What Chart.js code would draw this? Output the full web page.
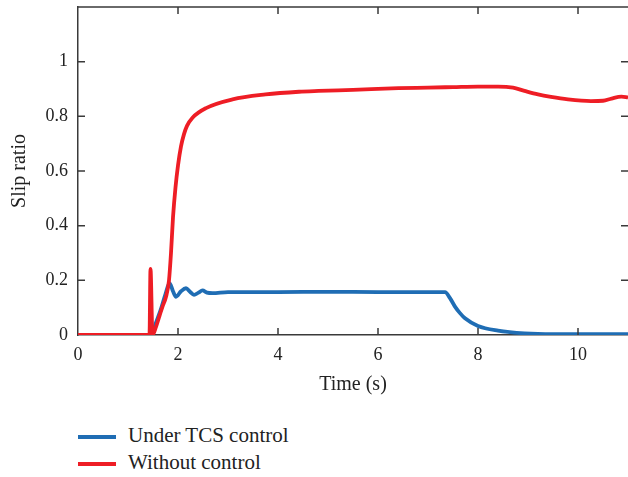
<!DOCTYPE html>
<html>
<head>
<meta charset="utf-8">
<script src="https://cdn.jsdelivr.net/npm/chart.js@4"></script>
<style>
  body { margin: 0; background: #fff; font-family: "Liberation Serif", serif; }
  #wrap { position: relative; width: 628px; height: 477px; }
  #chart { display: block; }
  #legend { position: absolute; left: 78px; top: 422px; color: #222; font-size: 21px; }
  #legend div { height: 27px; line-height: 27px; }
  #legend i { display: inline-block; width: 38px; height: 3.5px; vertical-align: middle; margin-right: 12px; }
</style>
</head>
<body>
<div id="wrap">
  <canvas id="chart" width="628" height="400"></canvas>
  <div id="legend"></div>
</div>
<script>
// data
const timeBlue = [0, 1.48, 1.55, 1.65, 1.75, 1.83, 1.9, 1.96, 2.06, 2.16, 2.24, 2.32, 2.41, 2.49, 2.58, 2.69, 3.0, 4, 5, 6, 7, 7.34, 7.44, 7.54, 7.64, 7.74, 8.0, 8.4, 8.93, 9.5, 10, 11];
const slipBlue = [0, 0, 0.04, 0.09, 0.15, 0.19, 0.16, 0.14, 0.16, 0.171, 0.158, 0.147, 0.155, 0.163, 0.155, 0.153, 0.157, 0.157, 0.158, 0.157, 0.157, 0.157, 0.135, 0.104, 0.08, 0.061, 0.033, 0.016, 0.006, 0.003, 0.003, 0.003];

const timeRed = [0, 1.43, 1.45, 1.49, 1.56, 1.63, 1.69, 1.76, 1.82, 1.86, 1.9, 1.95, 2.0, 2.06, 2.12, 2.18, 2.29, 2.56, 3.09, 3.75, 4.42, 4.81, 5.5, 6.41, 7.0, 7.5, 8.0, 8.4, 8.7, 8.93, 9.2, 9.46, 9.8, 10.26, 10.5, 10.67, 10.87, 11];
const slipRed = [0, 0, 0.242, 0, 0.03, 0.07, 0.104, 0.14, 0.2, 0.3, 0.43, 0.54, 0.62, 0.69, 0.735, 0.765, 0.795, 0.83, 0.862, 0.88, 0.89, 0.893, 0.897, 0.903, 0.905, 0.907, 0.909, 0.909, 0.905, 0.893, 0.88, 0.871, 0.862, 0.856, 0.857, 0.865, 0.872, 0.869];

const seriesLabels = ['Under TCS control', 'Without control'];
const seriesColors = ['#1f6db4', '#ee1d25'];
const xTicks = [0, 2, 4, 6, 8, 10];
const yTicks = [0, 0.2, 0.4, 0.6, 0.8, 1];

const axisColor = '#3a3a3a';
const font = { family: '"Liberation Serif", serif', size: 18 };
const titleFont = { family: '"Liberation Serif", serif', size: 20 };

function toPoints(xs, ys) {
  return xs.map((x, i) => ({ x, y: ys[i] }));
}

// top spine + inward tick marks on all four sides
const innerTicks = {
  id: 'innerTicks',
  afterDraw(chart) {
    const { ctx, chartArea: a, scales: { x, y } } = chart;
    ctx.save();
    ctx.strokeStyle = axisColor;
    ctx.lineWidth = 1.5;
    ctx.beginPath();
    ctx.moveTo(a.left, a.top);
    ctx.lineTo(a.right, a.top);
    xTicks.forEach((v) => {
      if (v === 0) return;
      const px = x.getPixelForValue(v);
      ctx.moveTo(px, a.bottom); ctx.lineTo(px, a.bottom - 7);
      ctx.moveTo(px, a.top); ctx.lineTo(px, a.top + 7);
    });
    yTicks.forEach((v) => {
      if (v === 0) return;
      const py = y.getPixelForValue(v);
      ctx.moveTo(a.left, py); ctx.lineTo(a.left + 7, py);
      ctx.moveTo(a.right, py); ctx.lineTo(a.right - 7, py);
    });
    ctx.stroke();
    ctx.restore();
  },
};

new Chart(document.getElementById('chart'), {
  type: 'line',
  data: {
    datasets: [
      { label: seriesLabels[0], data: toPoints(timeBlue, slipBlue), borderColor: seriesColors[0], order: 1 },
      { label: seriesLabels[1], data: toPoints(timeRed, slipRed), borderColor: seriesColors[1], order: 0 },
    ],
  },
  options: {
    responsive: false,
    animation: false,
    layout: { padding: { top: 7, right: 0 } },
    elements: {
      point: { radius: 0 },
      line: { borderWidth: 3.8, cubicInterpolationMode: 'monotone', fill: false },
    },
    plugins: { legend: { display: false }, tooltip: { enabled: false } },
    scales: {
      x: {
        type: 'linear', min: 0, max: 11,
        afterFit: (s) => { s.height = 65; s.paddingLeft = 0; s.paddingRight = 0; },
        afterBuildTicks: (s) => { s.ticks = xTicks.map((v) => ({ value: v })); },
        grid: { display: false, drawTicks: false },
        border: { color: axisColor, width: 1.5 },
        ticks: { color: '#222', font, padding: 9, maxRotation: 0 },
        title: { display: true, text: 'Time (s)', color: '#222', font: titleFont, padding: { top: 4, bottom: 3 } },
      },
      y: {
        min: 0, max: 1.2,
        afterFit: (s) => { s.width = 78; s.paddingTop = 0; s.paddingBottom = 0; },
        afterBuildTicks: (s) => { s.ticks = yTicks.map((v) => ({ value: v })); },
        grid: { display: false, drawTicks: false },
        border: { color: axisColor, width: 1.5 },
        ticks: { color: '#222', font, padding: 10, callback: (v) => String(+v.toFixed(1)) },
        title: { display: true, text: 'Slip ratio', color: '#222', font: titleFont, padding: { top: 8, bottom: 0 } },
      },
    },
  },
  plugins: [innerTicks],
});

document.getElementById('legend').innerHTML = seriesLabels.map((l, i) =>
  `<div><i style="background:${seriesColors[i]}"></i>${l}</div>`).join('');
</script>
</body>
</html>
